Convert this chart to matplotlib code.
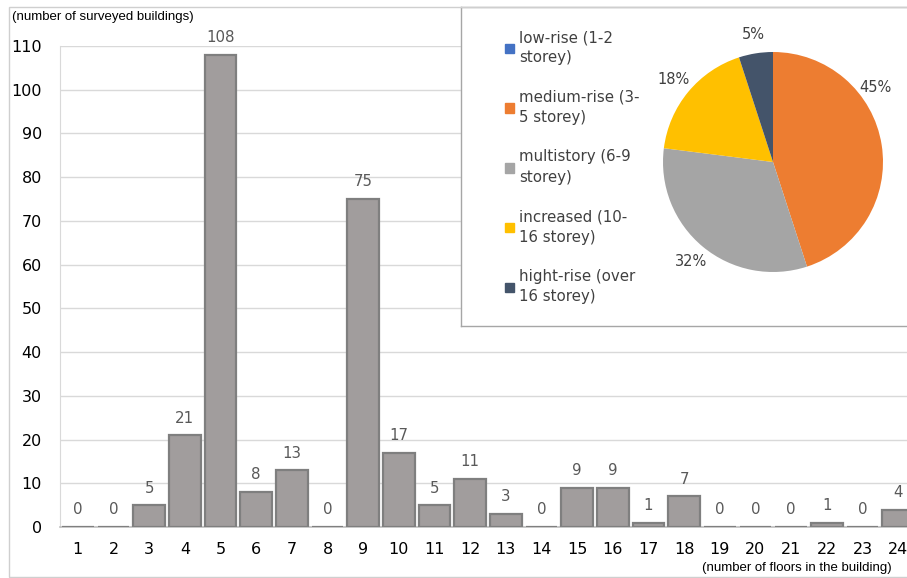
import matplotlib.pyplot as plt
import matplotlib.patches as mpatches

plt.rcParams['font.family'] = 'DejaVu Sans'

# data
floors = list(range(1, 25))
counts = [0, 0, 5, 21, 108, 8, 13, 0, 75, 17, 5, 11, 3, 0, 9, 9, 1, 7, 0, 0, 0, 1, 0, 4]

groups = ['low-rise (1-2\nstorey)', 'medium-rise (3-\n5 storey)', 'multistory (6-9\nstorey)',
          'increased (10-\n16 storey)', 'hight-rise (over\n16 storey)']
shares = [0, 45, 32, 18, 5]
group_colors = ['#4472C4', '#ED7D31', '#A5A5A5', '#FFC000', '#44546A']

W, H = 907, 578
fig = plt.figure(figsize=(W / 100, H / 100), dpi=100)

def box(x0, y0, x1, y1):
    # pixel box (top-left origin) -> figure fraction rect
    return [x0 / W, 1 - y1 / H, (x1 - x0) / W, (y1 - y0) / H]

# outer chart frame
fig.patches.append(mpatches.Rectangle((9 / W, 1.5 / H), 1.2, (577 - 7) / H, transform=fig.transFigure,
                                      fill=False, edgecolor='#CFCFCF', linewidth=1.0))

# main bar chart
ax = fig.add_axes(box(60, 46, 916, 527))
ax.bar(floors, counts, width=0.88, color='#A19D9D', edgecolor='#7F7F7F', linewidth=1.6, zorder=3)
for x, v in zip(floors, counts):
    ax.text(x, v + 2.2, str(v), ha='center', va='bottom', fontsize=10.8, color='#595959')
ax.set_xlim(0.5, 24.5)
ax.set_ylim(0, 110)
ax.set_yticks(range(0, 111, 10))
ax.set_xticks(floors)
ax.tick_params(axis='both', length=0, labelsize=11.5, colors='black')
ax.tick_params(axis='y', pad=13)
ax.tick_params(axis='x', pad=11)
ax.grid(axis='y', color='#D9D9D9', linewidth=1.0, zorder=0)
for s in ['top', 'right']:
    ax.spines[s].set_visible(False)
ax.spines['left'].set_color('#D9D9D9')
ax.spines['bottom'].set_color('#BFBFBF')
ax.spines['bottom'].set_linewidth(1.2)

fig.text(12 / W, 1 - 17 / H, '(number of surveyed buildings)', fontsize=9.5,
         family='Liberation Sans', va='center', ha='left')
fig.text(702 / W, 1 - 568 / H, '(number of floors in the building)', fontsize=9.5,
         family='Liberation Sans', va='center', ha='left')

# inset box with legend and pie
ax_box = fig.add_axes(box(461, 7, 930, 326))
ax_box.set_xticks([])
ax_box.set_yticks([])
ax_box.set_facecolor('white')
for s in ax_box.spines.values():
    s.set_color('#A6A6A6')
    s.set_linewidth(1.0)

ax_pie = fig.add_axes(box(773 - 137.5, 162 - 137.5, 773 + 137.5, 162 + 137.5))
wedges, texts, autotexts = ax_pie.pie(
    shares, colors=group_colors, startangle=90, counterclock=False,
    autopct=lambda p: f'{p:.0f}%' if p > 0.5 else '', pctdistance=1.17,
    wedgeprops=dict(linewidth=0),
    textprops=dict(fontsize=10.5, color='#404040'))
# the 45% label sits above-right like in Excel's best fit
autotexts[1].set_position((0.93, 0.68))

handles = [mpatches.Patch(color=c) for c in group_colors]
leg = ax_box.legend(handles, groups, loc='upper left', bbox_to_anchor=(0.065, 0.97), frameon=False,
                    fontsize=10.8, handlelength=0.6, handleheight=0.6, handletextpad=0.35,
                    labelspacing=1.62, labelcolor='#404040')
for t in leg.get_texts():
    t.set_linespacing(1.45)

fig.savefig('out.png', dpi=100)
